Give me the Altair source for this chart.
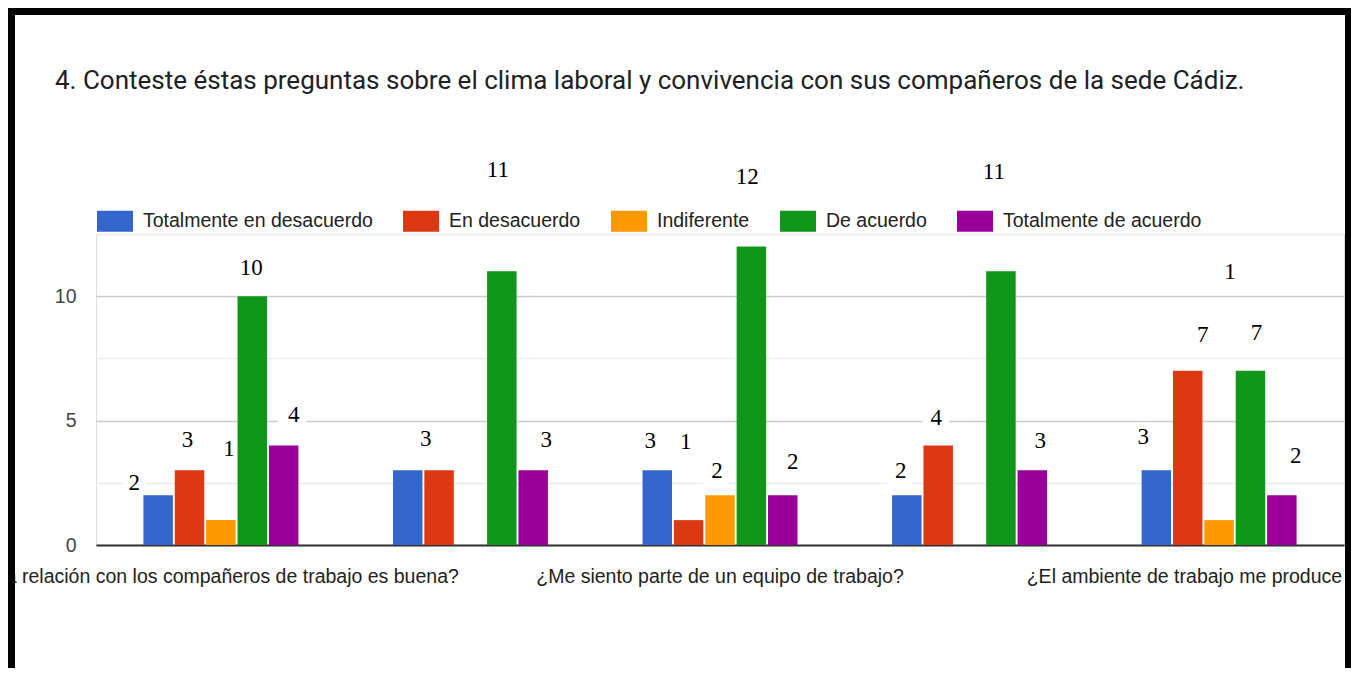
import altair as alt
import pandas as pd

title_text = "4. Conteste éstas preguntas sobre el clima laboral y convivencia con sus compañeros de la sede Cádiz."

questions = [
    "¿La relación con los compañeros de trabajo es buena?",
    "Pregunta 2",
    "¿Me siento parte de un equipo de trabajo?",
    "Pregunta 4",
    "¿El ambiente de trabajo me produce estrés?",
]
shown_questions = [questions[0], questions[2], questions[4]]

series = [
    "Totalmente en desacuerdo",
    "En desacuerdo",
    "Indiferente",
    "De acuerdo",
    "Totalmente de acuerdo",
]
colors = ["#3366cc", "#dc3912", "#ff9900", "#109618", "#990099"]

totalmente_en_desacuerdo = [2, 3, 3, 2, 3]
en_desacuerdo = [3, 3, 1, 4, 7]
indiferente = [1, 0, 2, 0, 1]
de_acuerdo = [10, 11, 12, 11, 7]
totalmente_de_acuerdo = [4, 3, 2, 3, 2]
values_by_series = [totalmente_en_desacuerdo, en_desacuerdo, indiferente,
                    de_acuerdo, totalmente_de_acuerdo]

y_ticks = [0, 2.5, 5, 7.5, 10, 12.5]

# annotation labels (value-boxes pasted on the picture)
label_question = [0, 0, 0, 0, 0, 1, 1, 1, 2, 2, 2, 2, 2, 3, 3, 3, 3, 4, 4, 4, 4, 4]
label_series = [0, 1, 2, 3, 4, 0, 3, 4, 0, 1, 2, 3, 4, 0, 1, 3, 4, 0, 1, 2, 3, 4]
label_height = [2.49, 4.22, 3.86, 11.12, 5.22,
                4.26, 15.06, 4.22,
                4.18, 4.14, 2.97, 14.78, 3.33,
                2.97, 5.10, 14.98, 4.18,
                4.34, 8.43, 10.96, 8.51, 3.57]
label_nudge = [-24, -2, 8, -1, 10,
               18, -4, 13,
               -7, -3, -3, -4, 10,
               -6, -2, -7, 8,
               -13, 15, 11, 6, 14]

rows = []
for si, s in enumerate(series):
    for qi, q in enumerate(questions):
        rows.append({"pregunta": q, "respuesta": s, "valor": values_by_series[si][qi]})
bars_df = pd.DataFrame(rows)

lrows = []
for qi, si, h, n in zip(label_question, label_series, label_height, label_nudge):
    lrows.append({
        "pregunta": questions[qi],
        "respuesta": series[si],
        "texto": str(values_by_series[si][qi]),
        "altura": h,
        "nudge": n,
    })
labels_df = pd.DataFrame(lrows)

SANS = "Liberation Sans"
SERIF = "Liberation Serif"

x_enc = alt.X(
    "pregunta:N", sort=questions,
    scale=alt.Scale(paddingInner=0.379, paddingOuter=0.19),
    axis=alt.Axis(values=shown_questions, title=None, labelAngle=0, labelAlign="center",
                  ticks=False, domain=True, domainColor="#333333", domainWidth=2,
                  labelPadding=31, labelFont=SANS, labelFontSize=19.5,
                  labelColor="#222222", labelLimit=0, labelOverlap=False,
                  labelFlush=False, grid=False),
)
xoff_enc = alt.XOffset("respuesta:N", sort=series,
                       scale=alt.Scale(paddingInner=0.06, paddingOuter=0))
y_scale = alt.Scale(domain=[0, 12.5], nice=False, zero=True)

bars = alt.Chart(bars_df).mark_bar(stroke=None).encode(
    x=x_enc,
    xOffset=xoff_enc,
    y=alt.Y("valor:Q", scale=y_scale,
            axis=alt.Axis(values=y_ticks, title=None, ticks=False, domain=False,
                          labelExpr="datum.value % 5 == 0 ? datum.label : ''",
                          labelPadding=20, labelFont=SANS, labelFontSize=19.5,
                          labelColor="#444444", grid=True,
                          gridColor={"condition": {"test": "datum.value % 5 === 0",
                                                   "value": "#cccccc"},
                                     "value": "#ebebeb"},
                          gridWidth=1.5)),
    color=alt.Color("respuesta:N", sort=series,
                    scale=alt.Scale(domain=series, range=colors),
                    legend=alt.Legend(orient="none", legendX=1, legendY=-31,
                                      direction="horizontal", columns=5, title=None,
                                      symbolType="M-1,-0.58H1V0.58H-1Z",
                                      symbolSize=1296, symbolStrokeWidth=0,
                                      labelFont=SANS, labelFontSize=19.5,
                                      labelColor="#222222", labelOffset=10,
                                      columnPadding=30, labelLimit=0)),
)

halo_layers = []
text_layers = []
for n in sorted(set(label_nudge)):
    base = alt.Chart(labels_df).transform_filter(alt.datum.nudge == n)
    enc = dict(
        x=alt.X("pregunta:N", sort=questions),
        xOffset=alt.XOffset("respuesta:N", sort=series),
        y=alt.Y("altura:Q", scale=y_scale),
        text="texto:N",
    )
    halo_layers.append(base.mark_text(dx=n, font=SERIF, fontSize=23, stroke="white",
                                      strokeWidth=14, fill="white",
                                      baseline="middle", align="center").encode(**enc))
    text_layers.append(base.mark_text(dx=n, font=SERIF, fontSize=23, color="black",
                                      baseline="middle", align="center").encode(**enc))

frame = alt.Chart(pd.DataFrame({"k": [0]})).mark_rect(
    filled=False, stroke="black", strokeWidth=8
).encode(x=alt.value(-85), x2=alt.value(1253), y=alt.value(-223), y2=alt.value(480))

chart = alt.layer(*halo_layers, bars, *text_layers, frame).properties(
    width=1248,
    height=311,
    autosize=alt.AutoSizeParams(type="none"),
    padding={"left": 88, "top": 226, "right": 7, "bottom": 123},
    title=alt.TitleParams(title_text, anchor="start", frame="group", dx=-41,
                          font="Roboto", fontSize=26, fontWeight="normal",
                          color="#202124", offset=0, dy=108, baseline="alphabetic"),
).configure_view(stroke=None).configure(background="white")

chart.save("out.html", embed_options={"renderer": "svg", "actions": False})
